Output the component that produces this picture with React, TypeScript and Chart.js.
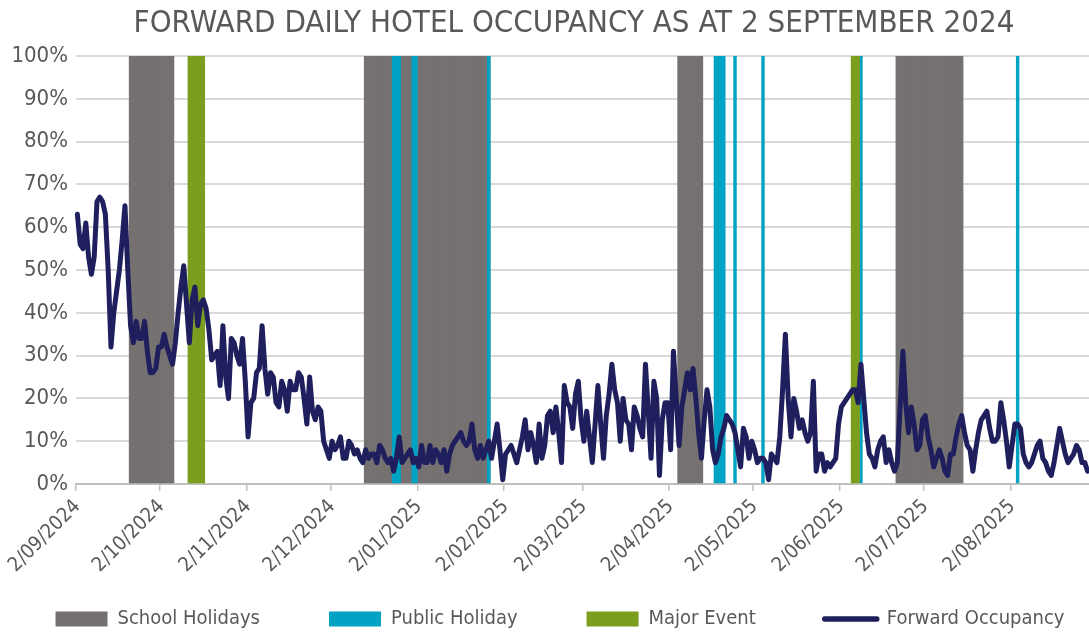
import { useEffect, useRef } from 'react';
import { Chart, registerables } from 'chart.js';

Chart.register(...registerables);

// ---------- DATA ----------
const startDate = '2024-09-02';

const tickLabels = [
  '2/09/2024', '2/10/2024', '2/11/2024', '2/12/2024', '2/01/2025', '2/02/2025',
  '2/03/2025', '2/04/2025', '2/05/2025', '2/06/2025', '2/07/2025', '2/08/2025',
];

// Forward occupancy (%) per day, by calendar month
const occSep2024 = [63, 56, 55, 61, 53, 49, 53, 66, 67, 66, 63, 50, 32, 40, 45, 50, 57, 65, 50, 37, 33, 38, 34, 34, 38, 31, 26, 26, 27];
const occOct2024 = [32, 32, 35, 32, 30, 28, 33, 40, 46, 51, 42, 33, 43, 46, 37, 42, 43, 41, 36, 29, 30, 31, 23, 37, 25, 20, 34, 33, 30, 28, 34];
const occNov2024 = [24, 11, 19, 20, 26, 27, 37, 27, 21, 26, 25, 19, 18, 24, 22, 17, 24, 22, 22, 26, 25, 20, 14, 25, 17, 15, 18, 17, 10, 8];
const occDec2024 = [6, 10, 8, 9, 11, 6, 6, 10, 9, 7, 8, 6, 5, 8, 6, 7, 7, 5, 9, 8, 6, 5, 6, 3, 6, 11, 5, 6, 7, 8, 5];
const occJan2025 = [6, 4, 9, 5, 5, 9, 5, 8, 7, 5, 8, 3, 7, 9, 10, 11, 12, 10, 9, 10, 14, 8, 6, 9, 6, 8, 10, 6, 10, 14, 8];
const occFeb2025 = [1, 7, 8, 9, 7, 5, 8, 11, 15, 8, 12, 9, 5, 14, 6, 9, 16, 17, 12, 18, 12, 5, 23, 19, 18, 13, 21, 24];
const occMar2025 = [15, 10, 17, 11, 5, 14, 23, 14, 6, 16, 21, 28, 22, 19, 10, 20, 15, 14, 8, 18, 16, 13, 11, 28, 17, 6, 24, 20, 2, 15, 19];
const occApr2025 = [19, 8, 31, 20, 9, 18, 22, 26, 22, 27, 20, 12, 6, 15, 22, 18, 8, 5, 7, 11, 13, 16, 15, 14, 12, 8, 4, 13, 11, 6];
const occMay2025 = [10, 8, 5, 6, 6, 5, 1, 7, 6, 5, 11, 22, 35, 20, 11, 20, 17, 13, 15, 12, 10, 12, 24, 3, 7, 7, 3, 5, 4, 5, 6];
const occJun2025 = [14, 18, 19, 20, 21, 22, 22, 19, 28, 20, 12, 7, 6, 4, 8, 10, 11, 5, 8, 5, 3, 5, 18, 31, 19, 12, 18, 14, 8, 9];
const occJul2025 = [15, 16, 11, 8, 4, 6, 8, 6, 3, 2, 7, 7, 11, 14, 16, 12, 9, 8, 3, 8, 12, 15, 16, 17, 13, 10, 10, 11, 19, 15, 10];
const occAug2025 = [4, 9, 14, 14, 13, 7, 5, 4, 5, 7, 9, 10, 6, 5, 3, 2, 5, 9, 13, 10, 7, 5, 6, 7, 9, 8, 5, 5, 3];

const schoolHolidays = [
  ['2024-09-21', '2024-10-06'],
  ['2024-12-14', '2025-01-27'],
  ['2025-04-05', '2025-04-13'],
  ['2025-06-22', '2025-07-15'],
];
const publicHolidays = [
  ['2024-12-24', '2024-12-26'],
  ['2024-12-31', '2025-01-01'],
  ['2025-01-27', '2025-01-27'],
  ['2025-04-18', '2025-04-21'],
  ['2025-04-25', '2025-04-25'],
  ['2025-05-05', '2025-05-05'],
  ['2025-06-09', '2025-06-09'],
  ['2025-08-04', '2025-08-04'],
];
const majorEvents = [
  ['2024-10-12', '2024-10-17'],
  ['2025-06-06', '2025-06-08'],
];

// ---------- STYLE ----------
const FONT = "'Liberation Sans Narrow', 'DejaVu Sans Condensed', 'Roboto Condensed', sans-serif";
const TEXT = '#595959';
const GRAY = '#767171';
const CYAN = '#00a3c4';
const GREEN = '#7c9e1f';
const NAVY = '#1f1f5e';
const GRID = '#d9d9d9';

const LEGEND_FONT = 20;
const LEGEND_PAD = 69;
const LEGEND_CENTER_Y = 619;
const LEGEND_CENTER_X = 560;
const TITLE_CENTER_X = 574;

// ---------- DERIVED ----------
const DAY_MS = 86400000;
const t0 = Date.parse(startDate + 'T00:00:00Z');
const dayIndex = (iso: string) => Math.round((Date.parse(iso + 'T00:00:00Z') - t0) / DAY_MS);

const occupancy = [
  ...occSep2024, ...occOct2024, ...occNov2024, ...occDec2024, ...occJan2025, ...occFeb2025,
  ...occMar2025, ...occApr2025, ...occMay2025, ...occJun2025, ...occJul2025, ...occAug2025,
];
const categories = occupancy.map((_, i) => new Date(t0 + i * DAY_MS).toISOString().slice(0, 10));

const tickMap = new Map<number, string>();
tickLabels.forEach((s) => {
  const [d, m, y] = s.split('/');
  tickMap.set(dayIndex(`${y}-${m}-${d.padStart(2, '0')}`), s);
});

const band = (ranges: string[][]) =>
  categories.map((_, i) =>
    ranges.some(([a, b]) => i >= dayIndex(a) && i <= dayIndex(b)) ? 100 : null
  );

// Keeps the wide-spaced legend on one row and places legend / title boxes.
const layoutTweak = {
  id: 'layoutTweak',
  beforeLayout(chart: any) {
    const lg = chart.legend;
    if (lg && !lg.__patched) {
      lg.__patched = true;
      const orig = lg._fitRows;
      lg._fitRows = function (...args: any[]) {
        const mw = this.maxWidth;
        this.maxWidth = 100000;
        orig.apply(this, args);
        this.maxWidth = mw;
        return 38;
      };
    }
  },
  afterLayout(chart: any) {
    const lg = chart.legend;
    if (lg && lg.lineWidths) {
      const rowWidth = lg.lineWidths[0] - LEGEND_PAD; // items + gaps
      const startX = LEGEND_CENTER_X - rowWidth / 2;
      lg.left = startX - LEGEND_PAD;
      lg.right = 100000;
      lg.top = LEGEND_CENTER_Y - LEGEND_PAD - LEGEND_FONT / 2;
    }
    const tb = chart.titleBlock;
    if (tb) {
      const w = tb.right - tb.left;
      tb.left = TITLE_CENTER_X - w / 2;
      tb.right = TITLE_CENTER_X + w / 2;
    }
  },
};

export default function App() {
  const ref = useRef<HTMLCanvasElement>(null);

  useEffect(() => {
    const barCommon = {
      type: 'bar' as const,
      grouped: false,
      barPercentage: 1,
      categoryPercentage: 1,
      borderWidth: 0,
    };
    const chart = new Chart(ref.current!, {
      type: 'bar',
      data: {
        labels: categories,
        datasets: [
          {
            type: 'line',
            label: 'Forward Occupancy',
            data: occupancy,
            borderColor: NAVY,
            backgroundColor: NAVY,
            borderWidth: 5,
            pointRadius: 0,
            tension: 0,
            borderJoinStyle: 'round',
            borderCapStyle: 'round',
            order: 0,
          } as any,
          { ...barCommon, label: 'School Holidays', data: band(schoolHolidays), backgroundColor: GRAY, order: 3 },
          { ...barCommon, label: 'Public Holiday', data: band(publicHolidays), backgroundColor: CYAN, order: 2 },
          { ...barCommon, label: 'Major Event', data: band(majorEvents), backgroundColor: GREEN, order: 1 },
        ],
      },
      plugins: [layoutTweak],
      options: {
        responsive: false,
        animation: false,
        devicePixelRatio: 1,
        layout: { padding: { left: 0, right: 0, top: 0, bottom: 0 } },
        scales: {
          x: {
            type: 'category',
            offset: true,
            grid: {
              display: true,
              offset: true,
              drawOnChartArea: false,
              drawTicks: true,
              tickLength: 7,
              lineWidth: 1.5,
              color: (ctx: any) => (tickMap.has(ctx.index) ? '#bfbfbf' : 'rgba(0,0,0,0)'),
            },
            border: { display: true, color: '#bfbfbf', width: 2 },
            ticks: {
              autoSkip: false,
              minRotation: 45,
              maxRotation: 45,
              padding: 4,
              color: TEXT,
              font: { family: FONT, size: 20 },
              callback: (_v: any, i: number) => tickMap.get(i) ?? '',
            },
            afterFit: (s: any) => {
              s.height = 100;
              s.paddingLeft = 0;
              s.paddingRight = 0;
            },
          },
          y: {
            min: 0,
            max: 100,
            ticks: {
              stepSize: 10,
              padding: 8,
              color: TEXT,
              font: { family: FONT, size: 22 },
              callback: (v: any) => v + '%',
            },
            grid: { color: GRID, lineWidth: 2, drawTicks: false },
            border: { display: false },
            afterFit: (s: any) => {
              s.width = 76;
            },
          },
        },
        plugins: {
          tooltip: { enabled: false },
          title: {
            display: true,
            text: 'FORWARD DAILY HOTEL OCCUPANCY AS AT 2 SEPTEMBER 2024',
            color: TEXT,
            font: { family: FONT, size: 31, weight: 'normal' },
            padding: { top: 5, bottom: 13.8 },
          },
          legend: {
            position: 'bottom',
            align: 'start',
            labels: {
              usePointStyle: true,
              pointStyleWidth: 52,
              boxHeight: 15,
              padding: LEGEND_PAD,
              color: TEXT,
              font: { family: FONT, size: LEGEND_FONT },
              generateLabels: () => [
                { text: 'School Holidays', fillStyle: GRAY, strokeStyle: GRAY, lineWidth: 0, pointStyle: 'rect', hidden: false, datasetIndex: 1, fontColor: TEXT },
                { text: 'Public Holiday', fillStyle: CYAN, strokeStyle: CYAN, lineWidth: 0, pointStyle: 'rect', hidden: false, datasetIndex: 2, fontColor: TEXT },
                { text: 'Major Event', fillStyle: GREEN, strokeStyle: GREEN, lineWidth: 0, pointStyle: 'rect', hidden: false, datasetIndex: 3, fontColor: TEXT },
                { text: 'Forward Occupancy', fillStyle: NAVY, strokeStyle: NAVY, lineWidth: 5.5, lineCap: 'round', pointStyle: 'line', hidden: false, datasetIndex: 0, fontColor: TEXT },
              ] as any,
            },
          },
        },
      } as any,
    });
    return () => chart.destroy();
  }, []);

  return (
    <div style={{ position: 'absolute', left: 0, top: 0, width: 1089, height: 632 }}>
      <canvas ref={ref} width={1089} height={632} style={{ display: 'block' }} />
    </div>
  );
}
